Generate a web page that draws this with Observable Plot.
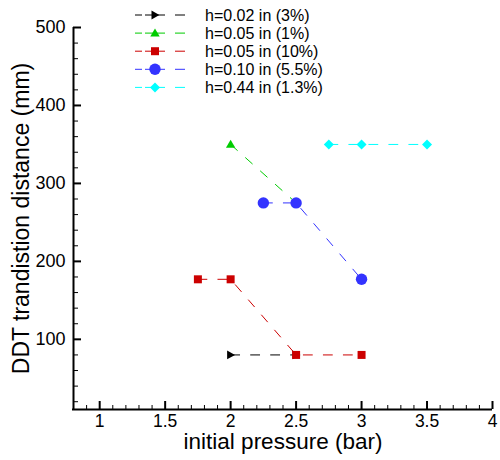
<!DOCTYPE html>
<html>
<head>
<meta charset="utf-8">
<script src="https://cdn.jsdelivr.net/npm/d3@7"></script>
<script src="https://cdn.jsdelivr.net/npm/@observablehq/plot@0.6"></script>
<style>
  html, body { margin: 0; padding: 0; background: #fff; }
  #wrap { position: relative; width: 500px; height: 460px; }
  #legend { position: absolute; left: 0; top: 0; pointer-events: none; }
</style>
</head>
<body>
<div id="wrap"></div>
<script>
// ---- data ----
const seriesLabels = ["h=0.02 in (3%)", "h=0.05 in (1%)", "h=0.05 in (10%)", "h=0.10 in (5.5%)", "h=0.44 in (1.3%)"];
const pressure_h002_3 = [2.0, 2.5];
const ddt_h002_3 = [80, 80];
const pressure_h005_1 = [2.0, 2.5];
const ddt_h005_1 = [350, 275];
const pressure_h005_10 = [1.75, 2.0, 2.5, 3.0];
const ddt_h005_10 = [177, 177, 80, 80];
const pressure_h010_55 = [2.25, 2.5, 3.0];
const ddt_h010_55 = [275, 275, 177];
const pressure_h044_13 = [2.75, 3.0, 3.5];
const ddt_h044_13 = [350, 350, 350];

const xTicks = [1, 1.5, 2, 2.5, 3, 3.5, 4];
const yTicks = [100, 200, 300, 400, 500];
const xDomain = [0.8, 4];
const yDomain = [10, 500];
const xLabel = "initial pressure (bar)";
const yLabel = "DDT trandistion distance (mm)";

// ---- styles ----
const seriesColors = ["#000000", "#00cc00", "#cc0000", "#3333ff", "#00ffff"];
const rad = k => Math.sqrt(k / Math.PI);
const symRight = {draw(c, s) { const r = rad(s); c.moveTo(-0.8 * r, -r); c.lineTo(r, 0); c.lineTo(-0.8 * r, r); c.closePath(); }};
const symUp = {draw(c, s) { const r = rad(s); c.moveTo(0, -r); c.lineTo(r, 0.7 * r); c.lineTo(-r, 0.7 * r); c.closePath(); }};
const symSquare = {draw(c, s) { const r = rad(s); c.rect(-r, -r, 2 * r, 2 * r); }};
const symCircle = {draw(c, s) { const r = rad(s); c.moveTo(r, 0); c.arc(0, 0, r, 0, 2 * Math.PI); c.closePath(); }};
const symDiamond = {draw(c, s) { const r = rad(s); c.moveTo(0, -r); c.lineTo(r, 0); c.lineTo(0, r); c.lineTo(-r, 0); c.closePath(); }};
const seriesSymbols = [symRight, symUp, symSquare, symCircle, symDiamond];
const seriesRadii = [4.4, 4.7, 4.0, 5.7, 5.0];

const W = 500, H = 460, mL = 73, mR = 8, mT = 27, mB = 51;
const plotW = W - mL - mR, plotH = H - mT - mB;
const font = "'Liberation Sans', Arial, Helvetica, sans-serif";

// ---- table ----
const xs = [pressure_h002_3, pressure_h005_1, pressure_h005_10, pressure_h010_55, pressure_h044_13];
const ys = [ddt_h002_3, ddt_h005_1, ddt_h005_10, ddt_h010_55, ddt_h044_13];
const series = seriesLabels.map((name, i) => xs[i].map((x, j) => ({series: name, x, y: ys[i][j]})));

const xMinor = d3.range(9, 40).map(i => i / 10).filter(v => !xTicks.some(t => Math.abs(t - v) < 1e-9));
const yMinor = d3.range(20, 500, 20).filter(v => !yTicks.includes(v));

const marks = [];
// tick marks (inward)
marks.push(Plot.ruleX(xMinor, {x: d => d, insetTop: plotH - 4, stroke: "#000", strokeWidth: 1}));
marks.push(Plot.ruleX(xTicks, {x: d => d, insetTop: plotH - 8, stroke: "#000", strokeWidth: 2}));
marks.push(Plot.ruleY(yMinor, {y: d => d, insetRight: plotW - 5, stroke: "#000", strokeWidth: 1}));
marks.push(Plot.ruleY(yTicks, {y: d => d, insetRight: plotW - 8, stroke: "#000", strokeWidth: 2}));
// axis lines
marks.push(Plot.ruleX([xDomain[0]], {stroke: "#000", strokeWidth: 2}));
marks.push(Plot.ruleY([yDomain[0]], {stroke: "#000", strokeWidth: 2, insetLeft: -1}));
// tick labels
marks.push(Plot.axisX(xTicks, {tickSize: 0, tickPadding: 5, fontSize: 17.5, label: null, tickFormat: d => String(d), fill: "#000"}));
marks.push(Plot.axisY(yTicks, {tickSize: 0, tickPadding: 8, fontSize: 18, label: null, tickFormat: d => String(d), fill: "#000"}));
// axis titles
marks.push(Plot.text([xLabel], {text: d => d, frameAnchor: "bottom", lineAnchor: "top", textAnchor: "middle", dy: 24, fontSize: 22.5, fill: "#000"}));
marks.push(Plot.text([yLabel], {text: d => d, frameAnchor: "left", lineAnchor: "top", textAnchor: "middle", rotate: -90, dx: -61, fontSize: 23, fill: "#000"}));
// lines
series.forEach((rows, i) => {
  marks.push(Plot.line(rows, {x: "x", y: "y", stroke: seriesColors[i], strokeWidth: 1, strokeDasharray: "9,11"}));
});
// markers
series.forEach((rows, i) => {
  marks.push(Plot.dot(rows, {x: "x", y: "y", symbol: seriesSymbols[i], r: seriesRadii[i], fill: seriesColors[i], stroke: "none"}));
});

const chart = Plot.plot({
  width: W, height: H,
  marginLeft: mL, marginRight: mR, marginTop: mT, marginBottom: mB,
  x: {domain: xDomain},
  y: {domain: yDomain},
  style: {fontFamily: font, background: "#fff", color: "#000", overflow: "visible"},
  marks
});
const wrap = document.getElementById("wrap");
wrap.appendChild(chart);

// ---- legend overlay ----
const leg = d3.select(wrap).append("svg")
  .attr("id", "legend").attr("width", W).attr("height", 110)
  .style("font-family", font);
seriesLabels.forEach((name, i) => {
  const cy = 15 + 18.1 * i;
  const g = leg.append("g").attr("transform", `translate(0,${cy})`);
  g.append("line").attr("x1", 135).attr("x2", 185).attr("y1", 0).attr("y2", 0)
    .attr("stroke", seriesColors[i]).attr("stroke-width", 1)
    .attr("stroke-dasharray", "7,3,20,10,10");
  const p = d3.path();
  seriesSymbols[i].draw(p, Math.PI * seriesRadii[i] * seriesRadii[i]);
  g.append("path").attr("d", p.toString()).attr("transform", "translate(155,0)").attr("fill", seriesColors[i]);
  g.append("text").attr("x", 205).attr("y", 6).attr("font-size", 16).attr("fill", "#000").text(name);
});
</script>
</body>
</html>
